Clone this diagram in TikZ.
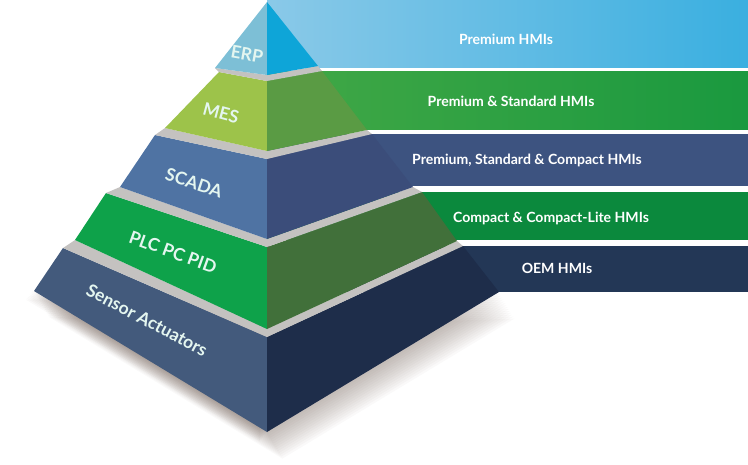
\documentclass[tikz,border=0pt]{standalone}
\usepackage{fontspec}
\setmainfont{Lato}
\usepackage{tikz}
\usetikzlibrary{calc}
\definecolor{erpleft}{RGB}{125,191,214}
\definecolor{erpright}{RGB}{14,165,216}
\definecolor{mesleft}{RGB}{157,195,74}
\definecolor{mesright}{RGB}{90,155,68}
\definecolor{scadaleft}{RGB}{79,115,163}
\definecolor{scadaright}{RGB}{59,77,122}
\definecolor{plcleft}{RGB}{14,162,74}
\definecolor{plcright}{RGB}{65,112,58}
\definecolor{sensleft}{RGB}{67,90,124}
\definecolor{sensright}{RGB}{30,45,74}
\definecolor{stepgray}{RGB}{196,194,192}
\definecolor{bandblueA}{RGB}{138,201,232}
\definecolor{bandblueB}{RGB}{58,175,224}
\definecolor{bandgreenA}{RGB}{66,168,70}
\definecolor{bandgreenB}{RGB}{26,153,63}
\definecolor{bandscada}{RGB}{61,83,128}
\definecolor{bandplc}{RGB}{11,137,61}
\definecolor{bandoem}{RGB}{35,55,86}
\definecolor{labeltint}{RGB}{228,246,240}
\definecolor{shadowbrown}{RGB}{90,70,60}
% left face, right face of one level: Lt, Ft, Fb, Lb, Rt, Rb, colours
\newcommand{\pyrfaces}[8]{%
  \fill[#7] #1 -- #2 -- #3 -- #4 -- cycle;
  \fill[#8] #2 -- #5 -- #6 -- #3 -- cycle;
}
% grey step between a level and the one above it
\newcommand{\stepstrip}[6]{%
  \fill[stepgray] #1 -- #2 -- #3 -- #4 -- #5 -- #6 -- cycle;
}

\begin{document}
\begin{tikzpicture}[x=0.02cm, y=-0.02cm,
    lvltext/.style={text=labeltint, font=\bfseries\fontsize{10}{12}\selectfont, inner sep=0pt},
    bandtext/.style={text=white, font=\bfseries\fontsize{8}{10}\selectfont, inner sep=0pt}]
    \useasboundingbox (0,0) rectangle (748,464);
    % Soft shadow under the base
    \foreach \s in {1,...,14} {
      \fill[shadowbrown, opacity=0.03, shift={(\s*1.1,\s*1.9)}]
        (33,290) -- (267,432) -- (499,292) -- (267,300) -- cycle;
    }
    \foreach \s in {1,...,8} {
      \fill[shadowbrown, opacity=0.03, shift={(-\s*0.9,\s*1.2)}]
        (33,290) -- (267,432) -- (267,300) -- cycle;
    }
    % Bands on the right
    \shade[left color=bandblueA, right color=bandblueB] (267,0) rectangle (748,67);
    \shade[left color=bandgreenA, right color=bandgreenB] (267,71) rectangle (748,129);
    \fill[bandscada] (267,134) rectangle (748,186);
    \fill[bandplc] (267,192) rectangle (748,240);
    \fill[bandoem] (267,246) rectangle (748,292);
    % Sensor Actuators
    \pyrfaces{(63,248)}{(267,337)}{(267,432)}{(34,291)}{(463,246)}{(499,292)}{sensleft}{sensright}
    \stepstrip{(63,248)}{(267,337)}{(463,246)}{(457,241)}{(267,329)}{(75,240)}
    % PLC PC PID
    \pyrfaces{(106,193)}{(267,247)}{(267,329)}{(75,240)}{(422,192)}{(457,241)}{plcleft}{plcright}
    \stepstrip{(106,193)}{(267,247)}{(422,192)}{(413,187)}{(267,239)}{(120,187)}
    % SCADA
    \pyrfaces{(155,135)}{(267,159)}{(267,239)}{(120,187)}{(372,134)}{(413,187)}{scadaleft}{scadaright}
    \stepstrip{(155,135)}{(267,159)}{(372,134)}{(367,130)}{(267,151)}{(165,128)}
    % MES
    \pyrfaces{(219,72)}{(267,81)}{(267,151)}{(165,128)}{(322,71)}{(367,130)}{mesleft}{mesright}
    \stepstrip{(219,72)}{(267,81)}{(322,71)}{(318,66)}{(267,75)}{(215,68)}
    % ERP
    \pyrfaces{(267,2)}{(267,2)}{(267,75)}{(215,68)}{(267,2)}{(318,66)}{erpleft}{erpright}
    % Level labels
    \node[lvltext, rotate=-10] (erp) at (247,54) {ERP};
    \node[lvltext, rotate=-15] (mes) at (221,113) {MES};
    \node[lvltext, rotate=-18] (scada) at (194,183) {SCADA};
    \node[lvltext, rotate=-20] (plc) at (173,252) {PLC PC PID};
    \node[lvltext, rotate=-28] (sensor) at (147,320) {Sensor Actuators};
    % Band labels
    \node[bandtext] (prem) at (506,39) {Premium HMIs};
    \node[bandtext] (premstd) at (511,101) {Premium \& Standard HMIs};
    \node[bandtext] (premstdcmp) at (527,160) {Premium, Standard \& Compact HMIs};
    \node[bandtext] (cmp) at (551,218) {Compact \& Compact-Lite HMIs};
    \node[bandtext] (oem) at (557,268) {OEM HMIs};
  \end{tikzpicture}
\end{document}
